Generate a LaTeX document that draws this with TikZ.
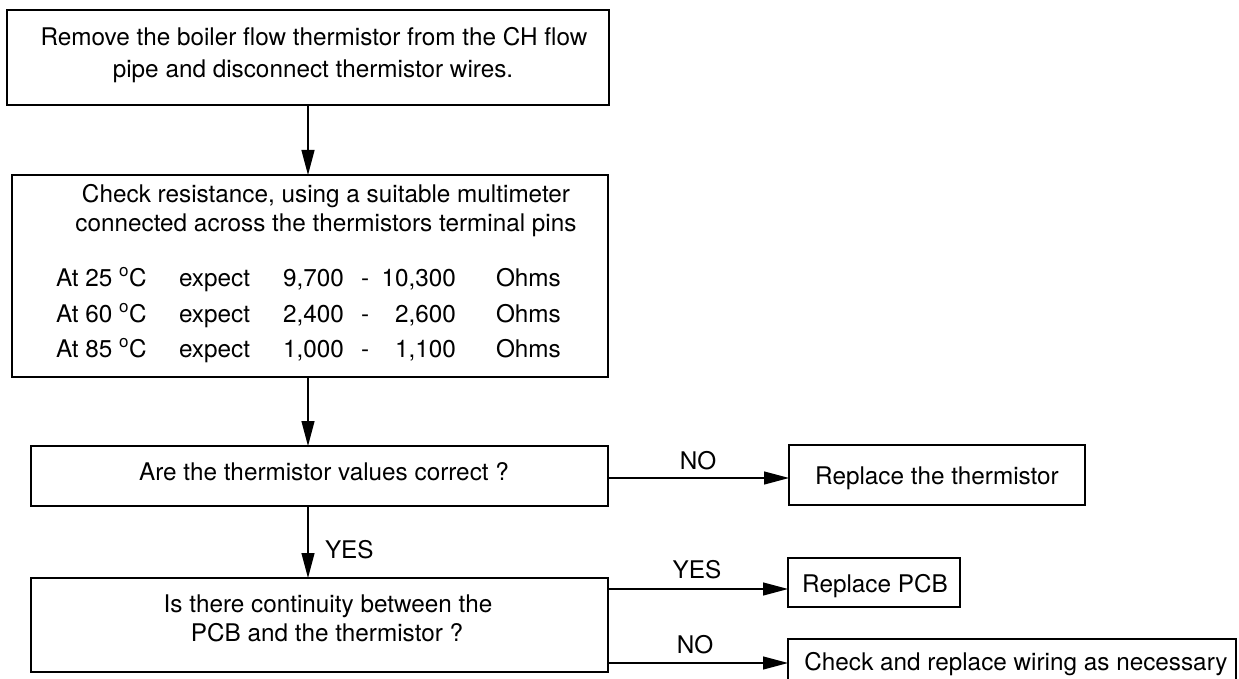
\documentclass[tikz,border=0pt]{standalone}
\usepackage{fontspec}
\setmainfont{TeX Gyre Heros}
\usetikzlibrary{arrows.meta}
\newcommand{\fsz}{\fontsize{24.3}{28}\selectfont}
\begin{document}
\begin{tikzpicture}[x=1pt,y=-1pt,
  box/.style={draw, line width=1.4pt, inner sep=0pt, outer sep=0pt},
  txt/.style={inner sep=0pt, outer sep=0pt, anchor=base, font=\fsz},
  txtw/.style={txt, anchor=base west},
  txte/.style={txt, anchor=base east},
  arr/.style={line width=1.2pt, -{Triangle[length=25pt,width=13pt]}},
]
\useasboundingbox (0,0) rectangle (1239,679);
% boxes
\node[box, minimum width=602pt, minimum height=95pt] (b1) at (308,57.5) {};
\node[box, minimum width=596pt, minimum height=202pt] (b2) at (310,276) {};
\node[box, minimum width=577pt, minimum height=60pt] (b3) at (319.5,476) {};
\node[box, minimum width=577pt, minimum height=94pt] (b4) at (319.5,625) {};
\node[box, minimum width=296pt, minimum height=60pt] (r1) at (937,475) {};
\node[box, minimum width=172pt, minimum height=49pt] (r2) at (874,582.5) {};
\node[box, minimum width=448pt, minimum height=47pt] (r3) at (1012,662.5) {};
% texts
\node[txt] (t1a) at (314,46) {Remove the boiler flow thermistor from the CH flow};
\node[txt] (t1b) at (313,78) {pipe and disconnect thermistor wires.};
\node[txt] (t2a) at (326,203) {Check resistance, using a suitable multimeter};
\node[txt] (t2b) at (326,231) {connected across the thermistors terminal pins};
% row 1
\node[txtw] (at1) at (56,286) {At 25 \textsuperscript{o}C};
\node[txtw] (ex1) at (179,286) {expect};
\node[txtw] (lo1) at (283,286) {9,700};
\node[txtw] (da1) at (361,286) {-};
\node[txte] (hi1) at (456,286) {10,300};
\node[txtw] (oh1) at (496,286) {Ohms};
% row 2
\node[txtw] (at2) at (56,322) {At 60 \textsuperscript{o}C};
\node[txtw] (ex2) at (179,322) {expect};
\node[txtw] (lo2) at (283,322) {2,400};
\node[txtw] (da2) at (361,322) {-};
\node[txte] (hi2) at (456,322) {2,600};
\node[txtw] (oh2) at (496,322) {Ohms};
% row 3
\node[txtw] (at3) at (56,357) {At 85 \textsuperscript{o}C};
\node[txtw] (ex3) at (179,357) {expect};
\node[txtw] (lo3) at (283,357) {1,000};
\node[txtw] (da3) at (361,357) {-};
\node[txte] (hi3) at (456,357) {1,100};
\node[txtw] (oh3) at (496,357) {Ohms};
\node[txt] (t3) at (324,480) {Are the thermistor values correct ?};
\node[txt] (t4a) at (328,612) {Is there continuity between the};
\node[txt] (t4b) at (327,641) {PCB and the thermistor ?};
\node[txt] (tr1) at (937,484) {Replace the thermistor};
\node[txt] (tr2) at (875,592) {Replace PCB};
\node[txt] (tr3) at (1016,670) {Check and replace wiring as necessary};
% connectors
\coordinate (cx) at (308,0);
\coordinate (y1) at (0,478);
\coordinate (y2) at (0,589);
\coordinate (y3) at (0,663);
\draw[arr] (b1.south) -- (b1.south |- b2.north);
\draw[arr] (cx |- b2.south) -- (cx |- b3.north);
\draw[arr] (cx |- b3.south) -- (cx |- b4.north);
\draw[arr] (b3.east |- y1) -- (r1.west |- y1);
\draw[arr] (b4.east |- y2) -- (r2.west |- y2);
\draw[arr] (b4.east |- y3) -- (r3.west |- y3);
% labels
\node[txt] (lno1) at (698,469) {NO};
\node[txtw] (lyes1) at (325,558) {YES};
\node[txt] (lyes2) at (697,578) {YES};
\node[txt] (lno2) at (695,653) {NO};
\end{tikzpicture}
\end{document}
